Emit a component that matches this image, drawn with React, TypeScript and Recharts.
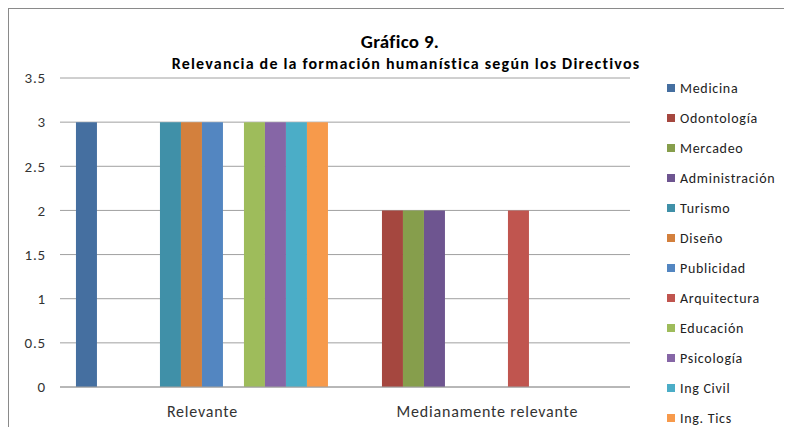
import { BarChart, Bar, XAxis, YAxis, CartesianGrid } from 'recharts';

const categories = ['Relevante', 'Medianamente relevante'];

const seriesNames = [
  'Medicina',
  'Odontología',
  'Mercadeo',
  'Administración',
  'Turismo',
  'Diseño',
  'Publicidad',
  'Arquitectura',
  'Educación',
  'Psicología',
  'Ing Civil',
  'Ing. Tics',
];

const relevante = [3, 0, 0, 0, 3, 3, 3, 0, 3, 3, 3, 3];
const medianamente = [0, 2, 2, 2, 0, 0, 0, 2, 0, 0, 0, 0];

const colors = [
  '#456FA0', '#A5473F', '#869E4C', '#6E5590', '#4090A8', '#D3803D',
  '#5386C1', '#C0554F', '#9EBC5B', '#8666A6', '#4BADC7', '#F79A4B',
];

const yTicks = [0, 0.5, 1, 1.5, 2, 2.5, 3, 3.5];

const valuesByCategory = [relevante, medianamente];

const data = categories.map((cat, ci) => {
  const row: Record<string, string | number> = { category: cat };
  seriesNames.forEach((s, si) => {
    row[s] = valuesByCategory[ci][si];
  });
  return row;
});

const font = 'Carlito, Calibri, Lato, "Open Sans", sans-serif';

// legend drawn as plain html so it doesn't eat into the plot width
function SeriesLegend() {
  return (
    <div
      style={{
        position: 'absolute',
        left: 658,
        top: 64,
        fontFamily: font,
        fontSize: 14,
        letterSpacing: 0.7,
        color: '#222',
      }}
    >
      {seriesNames.map((s, i) => (
        <div key={s} style={{ display: 'flex', alignItems: 'center', height: 30 }}>
          <span style={{ width: 8, height: 8, background: colors[i], marginRight: 5, display: 'inline-block' }} />
          <span>{s}</span>
        </div>
      ))}
    </div>
  );
}

export default function App() {
  return (
    <div
      style={{
        position: 'relative',
        width: 784,
        height: 419,
        marginLeft: -1,
        marginTop: -1,
        borderLeft: '2px solid #8a8a8a',
        borderTop: '2px solid #8a8a8a',
        background: '#fff',
        fontFamily: font,
      }}
    >
      <div
        style={{
          position: 'absolute',
          left: -9,
          width: 800,
          top: 21,
          textAlign: 'center',
          fontWeight: 'bold',
          fontSize: 19,
          letterSpacing: 0.3,
          color: '#000',
        }}
      >
        Gráfico 9.
      </div>
      <div
        style={{
          position: 'absolute',
          left: -3,
          width: 800,
          top: 45,
          textAlign: 'center',
          fontWeight: 'bold',
          fontSize: 16,
          letterSpacing: 1.2,
          color: '#000',
        }}
      >
        Relevancia de la formación humanística según los Directivos
      </div>
      <BarChart
        width={782}
        height={417}
        data={data}
        margin={{ top: 69, right: 161, bottom: 0, left: 0 }}
        barCategoryGap="5.6%"
        barGap={0}
      >
        <CartesianGrid vertical={false} stroke="#a0a0a0" />
        <XAxis
          dataKey="category"
          axisLine={{ stroke: '#a0a0a0' }}
          tickLine={false}
          height={39}
          tick={{ fill: '#333', fontSize: 16, fontFamily: font, letterSpacing: 0.8 }}
          tickMargin={13}
        />
        <YAxis
          domain={[0, 3.5]}
          ticks={yTicks}
          width={51}
          axisLine={false}
          tickLine={false}
          tickMargin={8}
          tick={{ fill: '#333', fontSize: 15, fontFamily: font, letterSpacing: 0.8 }}
          interval={0}
        />
        {seriesNames.map((s, i) => (
          <Bar key={s} dataKey={s} fill={colors[i]} isAnimationActive={false} />
        ))}
      </BarChart>
      <SeriesLegend />
    </div>
  );
}
